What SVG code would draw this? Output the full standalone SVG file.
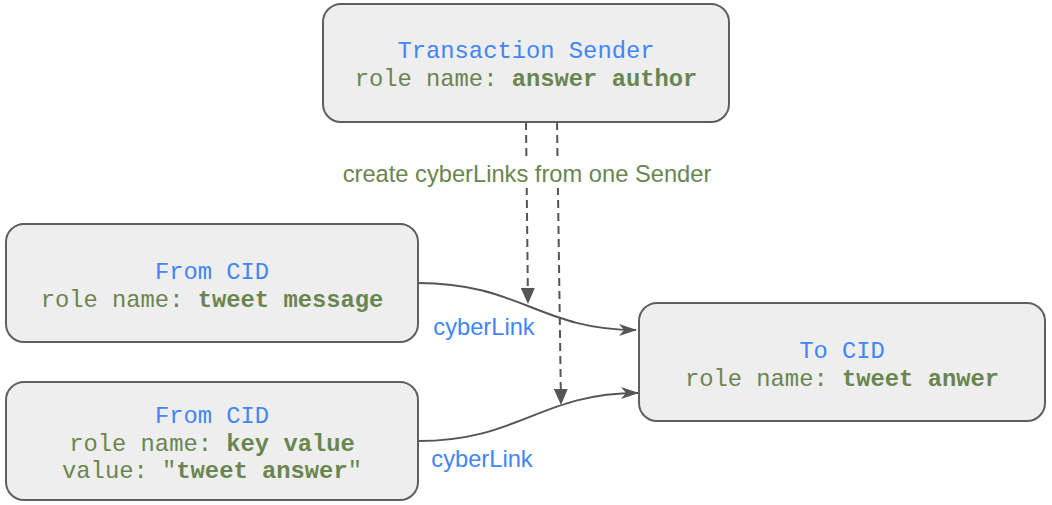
<svg xmlns="http://www.w3.org/2000/svg" width="1052" height="505" viewBox="0 0 1052 505">
<style>
.box{fill:#eeeeee;stroke:#5f5f5f;stroke-width:2}
.mono{font-family:"Liberation Mono","DejaVu Sans Mono",monospace;font-size:23.8px;text-anchor:middle}
.t{fill:#4285f4}
.g{fill:#6a8550}
.b{font-weight:bold}
.lbl{font-family:"Liberation Sans",Arial,sans-serif;font-size:23.7px;text-anchor:middle}
.edge{fill:none;stroke:#555555;stroke-width:2}
.dash{stroke-dasharray:8,5}
</style>
<defs>
<marker id="tri" markerWidth="16" markerHeight="14" refX="16" refY="7" orient="auto" markerUnits="userSpaceOnUse" viewBox="0 0 16 14">
<path d="M0,0 L16,7 L0,14 z" fill="#555555"/>
</marker>
<marker id="stealth" markerWidth="18" markerHeight="12" refX="17" refY="6" orient="auto" markerUnits="userSpaceOnUse" viewBox="0 0 18 12">
<path d="M0,0 L18,6 L0,12 L5,6 z" fill="#555555"/>
</marker>
</defs>
<g id="connectors">
<path class="edge dash" d="M526,122 L528,304" marker-end="url(#tri)"/>
<path class="edge dash" d="M557,122 L561,405" marker-end="url(#tri)"/>
<path class="edge" d="M418,283 C520,283 540,330 636,330" marker-end="url(#stealth)"/>
<path class="edge" d="M418,441 C520,441 540,393 638,393" marker-end="url(#stealth)"/>
<rect x="341" y="161" width="372" height="27" fill="#ffffff"/>
<text class="lbl g" x="527" y="182">create cyberLinks from one Sender</text>
<text class="lbl t" x="484" y="335">cyberLink</text>
<text class="lbl t" x="482" y="467">cyberLink</text>
</g>
<g id="sender">
<rect class="box" x="323" y="4" width="406" height="118" rx="18"/>
<text class="mono t" x="526" y="58">Transaction Sender</text>
<text class="mono g" x="526" y="86">role name: <tspan class="b">answer author</tspan></text>
</g>
<g id="from1">
<rect class="box" x="6" y="224" width="412" height="118" rx="18"/>
<text class="mono t" x="212" y="279">From CID</text>
<text class="mono g" x="212" y="307">role name: <tspan class="b">tweet message</tspan></text>
</g>
<g id="from2">
<rect class="box" x="6" y="382" width="412" height="118" rx="18"/>
<text class="mono t" x="212" y="423">From CID</text>
<text class="mono g" x="212" y="451">role name: <tspan class="b">key value</tspan></text>
<text class="mono g" x="212" y="478">value: "<tspan class="b">tweet answer</tspan>"</text>
</g>
<g id="to">
<rect class="box" x="639" y="303" width="406" height="118" rx="18"/>
<text class="mono t" x="842" y="358">To CID</text>
<text class="mono g" x="842" y="386">role name: <tspan class="b">tweet anwer</tspan></text>
</g>
</svg>
